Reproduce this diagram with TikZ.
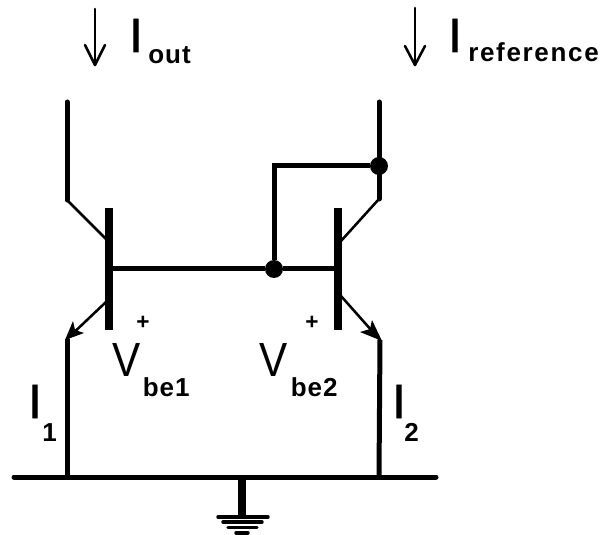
\documentclass[tikz,border=0pt]{standalone}
\usepackage{fontspec}
\setmainfont{Liberation Sans}
\newfontfamily\subfont[LetterSpace=4]{Liberation Sans Bold}
\newfontfamily\widefont[LetterSpace=6.5]{Liberation Sans Bold}
\newfontfamily\stemfont[FakeBold=1.2]{Liberation Sans}
\tikzset{
 wire/.style={line width=3.75pt,black,line cap=round,line join=miter},
 diag/.style={line width=1.9pt,black},
 arr/.style={line width=1.9pt,black,line join=round,line cap=round},
 bar/.style={line width=6pt,black},
 rail/.style={line width=3.75pt,black,line cap=round},
 gnd/.style={line width=2.6pt,black,line cap=round},
 dotn/.style={circle,fill=black,inner sep=0pt,minimum size=13.5pt},
 bigI/.style={inner sep=0pt,anchor=base,font=\stemfont\fontsize{36}{36}\selectfont},
 bigV/.style={inner sep=0pt,anchor=base,font=\fontsize{36}{36}\selectfont},
 sub/.style={inner sep=0pt,anchor=base west,font=\subfont\fontsize{19.5}{20}\selectfont},
 subw/.style={inner sep=0pt,anchor=base west,font=\widefont\fontsize{19.5}{20}\selectfont},
 pm/.style={inner sep=0pt,font=\bfseries\fontsize{17}{17}\selectfont},
}
\begin{document}
\begin{tikzpicture}[x=0.75pt,y=-0.75pt]
\useasboundingbox (0,0) rectangle (601,535);
\coordinate (c1t) at (67,102);
\coordinate (c1k) at (67,200);
\coordinate (b1) at (106,239);
\coordinate (e1) at (106,302);
\coordinate (e1k) at (67,339);
\coordinate (g1) at (67,477);
\coordinate (c2t) at (379,102);
\coordinate (c2k) at (379,199);
\coordinate (b2) at (341,241);
\coordinate (e2) at (341,296);
\coordinate (e2k) at (380,340);
\coordinate (g2) at (379,477);
\node[dotn] (j1) at (379,166) {};
\node[dotn] (j2) at (274,269) {};
\coordinate (fb) at (274,166);
\coordinate (bb1) at (108,269);
\coordinate (bb2) at (338,269);
\coordinate (ra) at (14,477);
\coordinate (rb) at (436,477);
\coordinate (gt) at (242,477);
\coordinate (gb) at (242,517);
% bars
\draw[bar] (108.5,208) -- (108.5,330);
\draw[bar] (338,208) -- (338,330);
% wires
\draw[wire] (c1t) -- (c1k);
\draw[diag] (c1k) -- (b1);
\draw[wire] (c2t) -- (c2k);
\draw[diag] (c2k) -- (b2);
\draw[wire,line cap=butt] (bb1) -- (j2) -- (bb2);
\draw[wire,line cap=butt] (j2) -- (fb) -- (j1);
\draw[diag] (e1) -- (e1k);
\draw[diag] (e2) -- (e2k);
\draw[wire,line cap=butt] (e1k) -- (g1);
\draw[wire,line cap=butt] (e2k) -- (g2);
\fill[black,line join=round] (65,340) -- (73,321) -- (75,330) -- (84,333) -- cycle;
\fill[black,line join=round] (382,341) -- (372,320) -- (370,329) -- (360,332) -- cycle;
\draw[rail] (ra) -- (rb);
% ground
\draw[line width=6pt,black] (gt) -- (gb);
\draw[gnd] (218,517) -- (268,517);
\draw[gnd] (223,522) -- (262,522);
\draw[gnd] (228,527.5) -- (257,527.5);
\draw[gnd] (236,533) -- (248,533);
% current arrows
\coordinate (a1t) at (95,9); \coordinate (a1b) at (95,65);
\coordinate (a1l) at (85,45); \coordinate (a1r) at (105,45);
\coordinate (a2t) at (415,8); \coordinate (a2b) at (415,65);
\coordinate (a2l) at (405,46); \coordinate (a2r) at (425,46);
\draw[arr] (a1t) -- (a1b);
\draw[arr] (a1l) -- (a1b) -- (a1r);
\draw[arr] (a2t) -- (a2b);
\draw[arr] (a2l) -- (a2b) -- (a2r);
% labels
\node[bigI] (iout) at (136,52) {I};
\node[sub] (ioutS) at (148,64) {out};
\node[bigI] (iref) at (455,52) {I};
\node[subw] (irefS) at (468,62) {reference};
\node[pm] (p1) at (143,323) {+};
\node[pm] (p2) at (312,323) {+};
\node[bigV] (v1) at (126.5,377) {\scalebox{.88}[1]{V}};
\node[sub] (v1s) at (142.5,397) {be1};
\node[bigV] (v2) at (274,377) {\scalebox{.88}[1]{V}};
\node[sub] (v2s) at (290.5,397) {be2};
\node[bigI] (i1) at (35,418) {I};
\node[sub] (i1s) at (42,441) {1};
\node[bigI] (i2) at (399,418) {I};
\node[sub] (i2s) at (404,441) {2};
\end{tikzpicture}
\end{document}
